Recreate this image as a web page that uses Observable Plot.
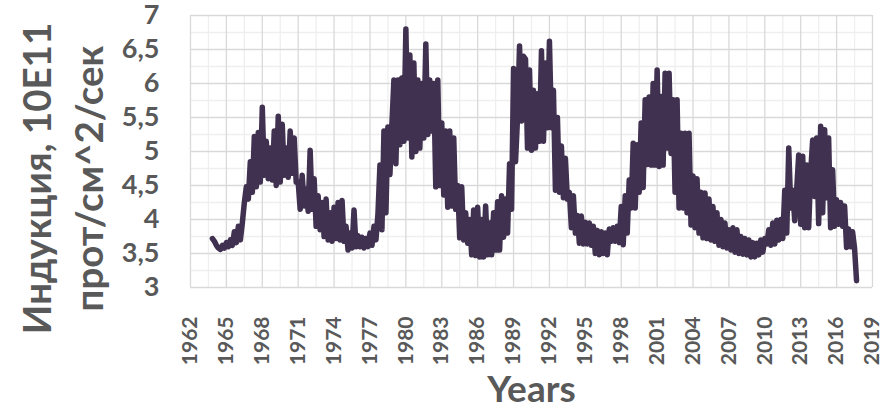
<!DOCTYPE html>
<html><head><meta charset="utf-8">
<script src="https://cdn.jsdelivr.net/npm/d3@7"></script>
<script src="https://cdn.jsdelivr.net/npm/@observablehq/plot@0.6"></script>
<style>body{margin:0;background:#fff}</style>
</head><body><div id="chart"></div>
<script>
// Series sampled every two months (1/6 year) starting at 1963 + 5/6
const startYear = 1963 + 5 / 6;
const stepYears = 1 / 6;
const induction = [
  3.72,
  3.68, 3.62, 3.58, 3.56, 3.62, 3.58,
  3.66, 3.60, 3.70, 3.62, 3.82, 3.66,
  3.90, 3.70, 3.95, 4.25, 4.48, 4.30,
  4.85, 4.40, 5.22, 4.48, 5.28, 4.55,
  5.65, 4.65, 5.15, 4.60, 5.05, 4.58,
  5.30, 4.50, 5.52, 4.55, 5.40, 4.65,
  5.05, 4.62, 5.30, 4.68, 5.20, 4.55,
  4.55, 4.15, 4.65, 4.20, 4.45, 4.12,
  5.02, 4.15, 4.60, 3.90, 4.35, 3.85,
  4.25, 3.75, 4.30, 3.70, 4.10, 3.68,
  4.18, 3.72, 4.25, 3.70, 4.28, 3.68,
  3.90, 3.55, 3.80, 3.58, 4.14, 3.60,
  3.76, 3.60, 3.74, 3.58, 3.72, 3.60,
  3.80, 3.62, 3.90, 3.70, 4.08, 4.80,
  3.85, 5.30, 4.10, 5.36, 4.66, 5.40,
  6.05, 4.82, 6.05, 5.10, 6.08, 5.15,
  6.80, 5.20, 6.42, 4.92, 6.30, 5.00,
  6.05, 5.05, 6.00, 5.20, 6.58, 5.25,
  6.05, 5.30, 6.00, 4.48, 6.05, 4.50,
  5.42, 4.36, 5.30, 4.18, 5.30, 4.20,
  5.20, 4.15, 4.50, 3.73, 4.48, 3.70,
  4.10, 3.65, 4.00, 3.48, 4.14, 3.47,
  4.18, 3.45, 4.00, 3.45, 4.20, 3.48,
  3.95, 3.48, 4.10, 3.55, 4.26, 3.55,
  4.35, 3.74, 4.30, 3.80, 4.82, 4.15,
  6.22, 4.85, 5.50, 6.55, 5.45, 6.40,
  6.36, 5.05, 6.20, 5.02, 5.90, 5.05,
  5.85, 5.15, 6.48, 5.15, 6.30, 5.35,
  6.62, 5.35, 5.90, 4.43, 5.50, 4.40,
  5.08, 4.32, 4.90, 4.30, 4.40, 3.88,
  4.35, 3.80, 4.06, 3.65, 4.05, 3.64,
  3.96, 3.64, 3.95, 3.62, 3.90, 3.50,
  3.84, 3.48, 3.82, 3.50, 3.80, 3.48,
  3.86, 3.68, 3.88, 3.68, 3.90, 3.66,
  4.19, 3.63, 4.35, 3.80, 4.58, 4.17,
  5.12, 4.17, 5.10, 4.40, 5.42, 4.47,
  5.76, 4.81, 5.80, 4.80, 6.00, 4.80,
  6.20, 4.78, 5.81, 4.80, 6.15, 5.05,
  6.15, 4.97, 5.76, 4.40, 5.76, 4.17,
  5.27, 4.17, 5.27, 4.10, 5.27, 3.92,
  4.64, 3.88, 4.60, 3.80, 4.40, 3.73,
  4.39, 3.72, 4.30, 3.70, 4.19, 3.68,
  4.10, 3.62, 4.00, 3.60, 3.95, 3.58,
  3.85, 3.55, 3.88, 3.52, 3.85, 3.50,
  3.75, 3.49, 3.72, 3.48, 3.70, 3.45,
  3.66, 3.45, 3.65, 3.48, 3.70, 3.52,
  3.72, 3.64, 3.85, 3.62, 3.95, 3.64,
  3.99, 3.70, 4.00, 3.72, 4.43, 3.80,
  5.05, 4.17, 4.43, 3.98, 4.45, 4.95,
  3.93, 4.93, 3.88, 4.80, 3.88, 4.70,
  5.17, 4.34, 5.20, 3.94, 5.37, 4.10,
  5.32, 4.32, 5.20, 3.88, 4.73, 3.90,
  4.29, 3.93, 4.25, 3.90, 4.20, 3.59,
  3.86, 3.60, 3.82, 3.58, 3.10
];
const xTicks = [1962, 1965, 1968, 1971, 1974, 1977, 1980, 1983, 1986, 1989, 1992, 1995, 1998, 2001, 2004, 2007, 2010, 2013, 2016, 2019];
const yTicks = [3, 3.5, 4, 4.5, 5, 5.5, 6, 6.5, 7];
const yTickLabels = ["3", "3,5", "4", "4,5", "5", "5,5", "6", "6,5", "7"];
const yTitle = "Индукция, 10E11\nпрот/см^2/сек";
const xTitle = "Years";

const data = induction.map((v, i) => ({year: startYear + i * stepYears, value: v}));
const xMinor = xTicks.slice(0, -1).map(t => t + 1.5);
const yMinor = yTicks.slice(0, -1).map(t => t + 0.25);

const chart = Plot.plot({
  width: 891, height: 412,
  marginLeft: 190, marginRight: 19, marginTop: 15, marginBottom: 125,
  x: {domain: [1962, 2019]},
  y: {domain: [3, 7]},
  style: {fontFamily: "Lato, sans-serif", fontWeight: "bold", color: "#595959", background: "#fff"},
  marks: [
    Plot.ruleX(xMinor, {stroke: "#efefef", strokeWidth: 1.3}),
    Plot.ruleY(yMinor, {stroke: "#efefef", strokeWidth: 1.3}),
    Plot.ruleX(xTicks, {stroke: "#d9d9d9", strokeWidth: 1.3}),
    Plot.ruleY(yTicks, {stroke: "#d9d9d9", strokeWidth: 1.3}),
    Plot.axisY(yTicks, {tickSize: 0, tickPadding: 31, fontSize: 27, label: null,
      tickFormat: d => yTickLabels[yTicks.indexOf(d)]}),
    Plot.axisX(xTicks, {tickSize: 0, tickPadding: 29, tickRotate: -90, fontSize: 21, label: null,
      tickFormat: d => String(d)}),
    Plot.line(data, {x: "year", y: "value", stroke: "#403151", strokeWidth: 5.5,
      strokeLinejoin: "round", strokeLinecap: "round"}),
    Plot.text([yTitle], {text: d => d, frameAnchor: "left", textAnchor: "middle", lineAnchor: "middle",
      rotate: -90, dx: -130, dy: 27, fontSize: 38.5, lineHeight: 1.35, fill: "#595959", fontWeight: "bold"}),
    Plot.text([xTitle], {text: d => d, frameAnchor: "bottom", textAnchor: "middle", lineAnchor: "middle",
      dy: 103, fontSize: 37, fill: "#595959", fontWeight: "bold"})
  ]
});
document.getElementById("chart").appendChild(chart);
</script>
</body></html>
